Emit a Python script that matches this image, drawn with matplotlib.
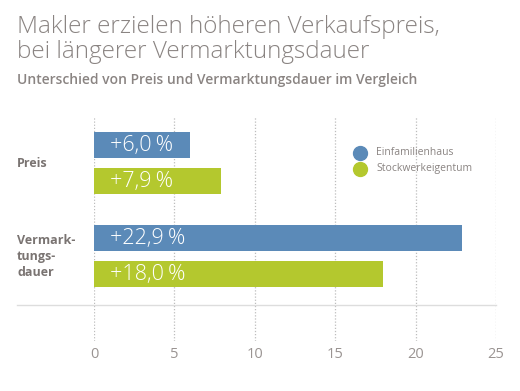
import numpy as np
import matplotlib.pyplot as plt

# data
categories = ["Preis", "Vermark-\ntungs-\ndauer"]
series = ["Einfamilienhaus", "Stockwerkeigentum"]
efh = [6.0, 22.9]
swe = [7.9, 18.0]
xticks = [0, 5, 10, 15, 20, 25]

blue = "#5b8ab8"
green = "#b4c82e"
grey = "#8a8482"

plt.rcParams['font.family'] = ['Open Sans', 'DejaVu Sans']

fig = plt.figure(figsize=(5.2, 3.91), dpi=100)
ax = fig.add_axes([94 / 520, 50 / 391, 402 / 520, 224 / 391])

y = np.arange(len(categories))
h = 0.28
off = 0.194
ax.barh(y - off, efh, height=h, color=blue, zorder=3)
ax.barh(y + off, swe, height=h, color=green, zorder=3)

for i in range(len(categories)):
    for vals, yy in ((efh, y[i] - off), (swe, y[i] + off)):
        ax.text(1.0, yy, "+" + f"{vals[i]:.1f}".replace(".", ",") + "\u2009%",
                color="white", fontsize=15.5, fontweight="light",
                va="center", ha="left", zorder=4)

ax.set_xlim(0, 25)
ax.set_ylim(1.909, -0.495)
ax.set_xticks(xticks)
ax.set_yticks([])
for x in xticks:
    ax.axvline(x, color="#bdbdbd", lw=0.9, ls=(0, (1, 1.5)), zorder=1)
ax.tick_params(axis="x", length=0, labelsize=10.5, labelcolor="#9a9492", pad=4)
for s in ax.spines.values():
    s.set_visible(False)

# baseline running into the label area
fig.add_artist(plt.Line2D([17 / 520, 496 / 520], [1 - 305 / 391, 1 - 305 / 391],
                          color="#dddddd", lw=1))

# category labels
ax_to_fig = lambda yy: 1 - (117 + (yy + 0.495) * 93) / 391
for i, c in enumerate(categories):
    fig.text(17 / 520, ax_to_fig(y[i]), c, fontsize=9, fontweight="bold",
             color="#7a7472", va="center", ha="left", linespacing=1.3)

# legend
for j, (name, col) in enumerate(zip(series, [blue, green])):
    fy = 1 - (153 + 16 * j) / 391
    fig.add_artist(plt.Line2D([360 / 520], [fy], marker="o", ms=10,
                              color=col, mec=col))
    fig.text(376 / 520, fy, name, fontsize=7.5, color=grey, va="center", ha="left")

fig.text(17 / 520, 1 - 15 / 391,
         "Makler erzielen höheren Verkaufspreis,\nbei längerer Vermarktungsdauer",
         fontsize=17.5, color=grey, fontweight="light", va="top", ha="left",
         linespacing=1.08)
fig.text(17 / 520, 1 - 80 / 391,
         "Unterschied von Preis und Vermarktungsdauer im Vergleich",
         fontsize=10, color=grey, fontweight="semibold", va="center", ha="left")

fig.savefig("out.png", dpi=100)
